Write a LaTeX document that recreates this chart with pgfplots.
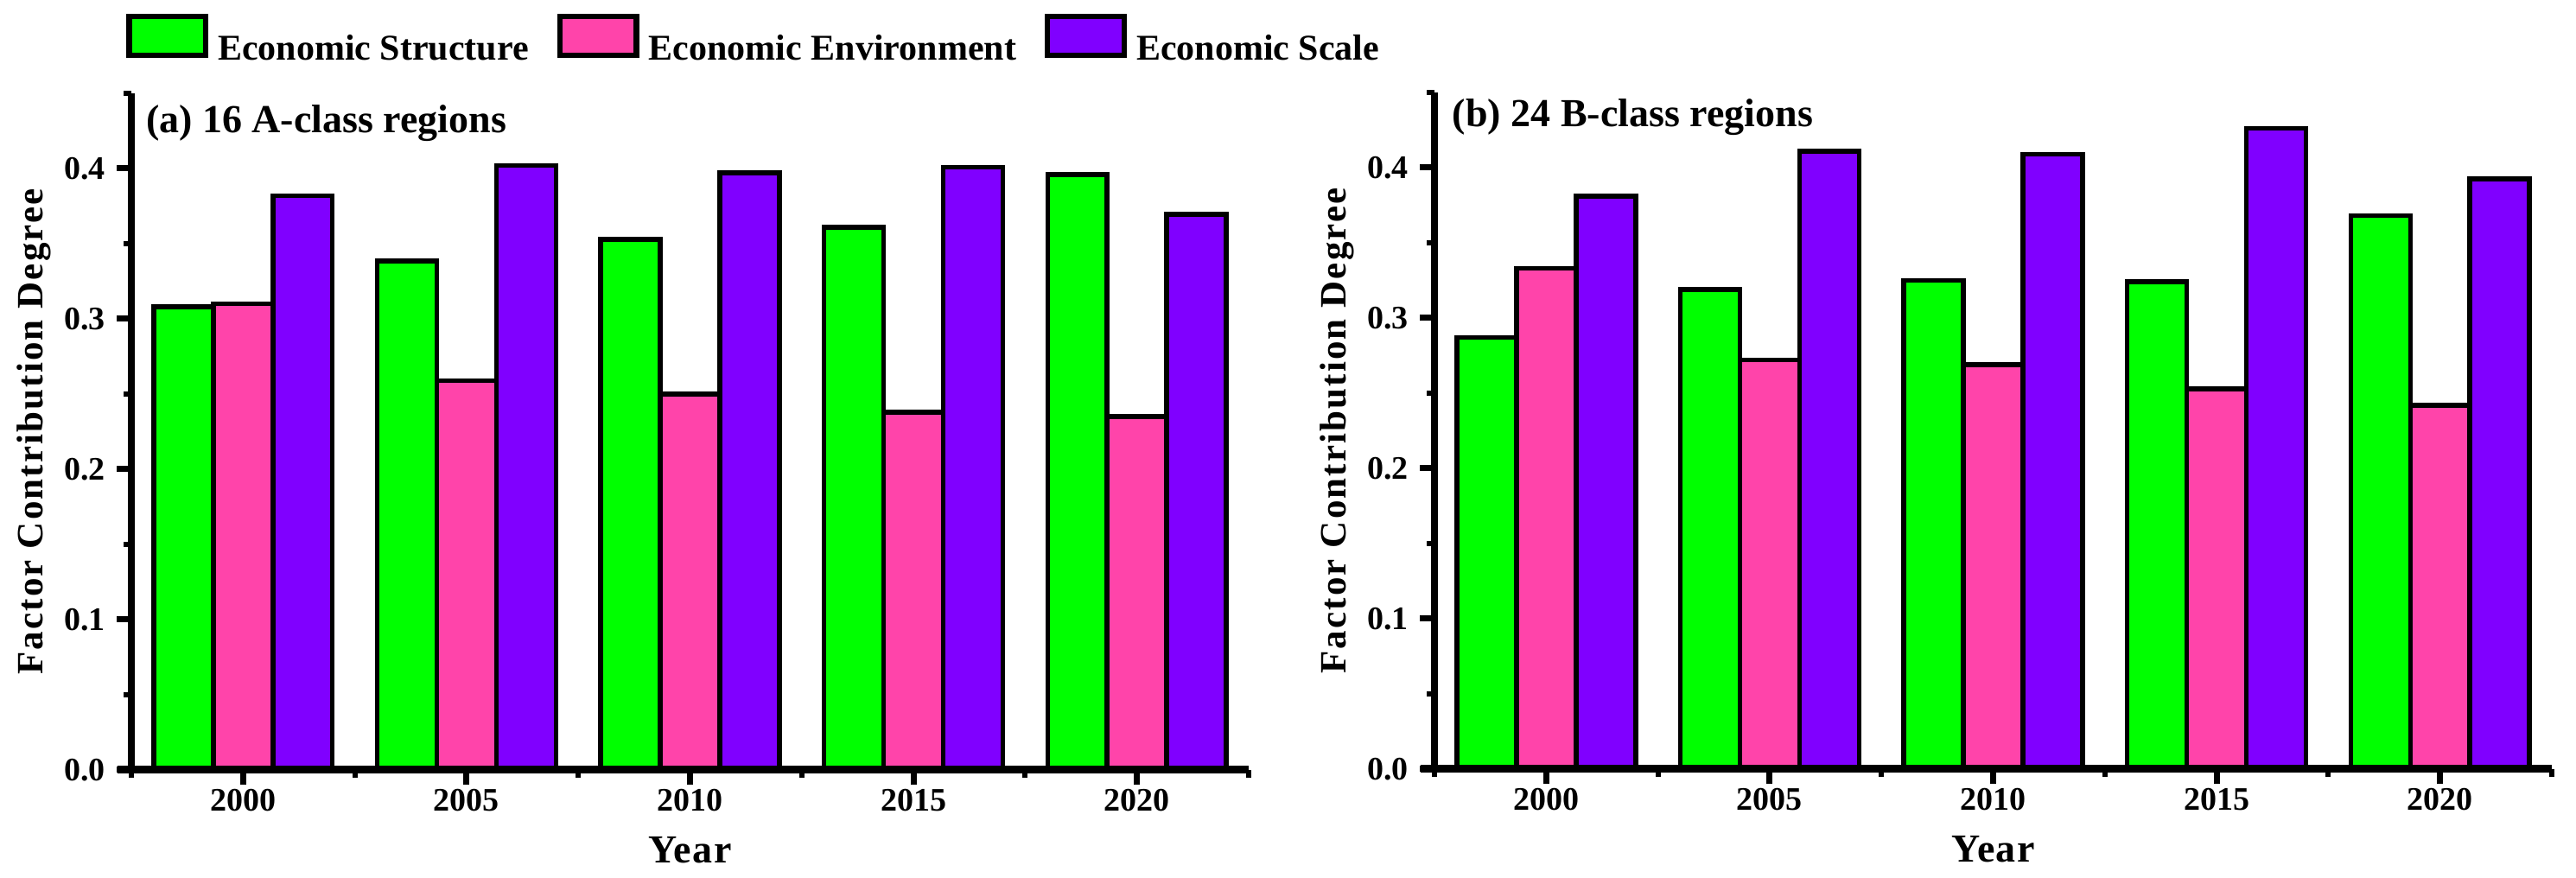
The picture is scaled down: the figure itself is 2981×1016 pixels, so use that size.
\documentclass[border=0pt]{standalone}
\usepackage{fontspec}
\setmainfont{Liberation Serif}
\usepackage{pgfplots}
\usepackage{pgfplotstable}
\pgfplotsset{compat=1.18}

\definecolor{cStruct}{HTML}{00FF00}
\definecolor{cEnv}{HTML}{FF44AA}
\definecolor{cScale}{HTML}{8000FF}

\newcommand\fs[1]{\fontsize{#1}{#1}\selectfont\bfseries}

% (a) 16 A-class regions
\pgfplotstableread{
year struct env scale
2000 0.308 0.310 0.382
2005 0.3385 0.259 0.402
2010 0.353 0.250 0.397
2015 0.361 0.238 0.401
2020 0.396 0.235 0.3695
}\tblA

% (b) 24 B-class regions
\pgfplotstableread{
year struct env scale
2000 0.287 0.333 0.381
2005 0.319 0.272 0.411
2010 0.325 0.269 0.409
2015 0.324 0.253 0.426
2020 0.368 0.242 0.3925
}\tblB

\pgfplotsset{
  facaxis/.style={
    scale only axis, width=1293pt, height=783pt,
    xmin=1997.5, xmax=2022.5, ymin=0, ymax=0.45,
    axis lines*=left, axis on top,
    ybar, bar width=1.3333,
    x axis line style={line width=9pt, shorten <=-16pt},
    y axis line style={line width=8.5pt},
    xtick={2000,2005,2010,2015,2020},
    minor xtick={1997.5,2002.5,2007.5,2012.5,2017.5,2022.5},
    ytick={0,0.1,0.2,0.3,0.4},
    minor ytick={0.05,0.15,0.25,0.35,0.45},
    tick align=outside,
    major tick length=17pt, minor tick length=9pt,
    every major tick/.append style={line width=7pt, black},
    every minor tick/.append style={line width=6pt, black},
    /pgf/number format/assume math mode=true,
    tick label style={font=\fs{38}, inner sep=0pt},
    xticklabel style={/pgf/number format/set thousands separator={}, anchor=north, yshift=-5pt},
    yticklabel style={/pgf/number format/.cd, fixed, fixed zerofill, precision=1, /tikz/.cd, anchor=east, xshift=-13pt},
    xlabel={Year},
    xlabel style={font=\fs{46}\addfontfeature{LetterSpace=3}, at={(axis description cs:0.5,-0.1367)}, anchor=base, inner sep=0pt},
    ylabel={Factor Contribution Degree},
    ylabel style={font=\fs{43}\addfontfeature{LetterSpace=5}, at={(axis description cs:-0.0789,0.5)}, anchor=base, rotate=0, inner sep=0pt},
  },
  barA/.style={fill=cStruct, draw=black, line width=5.5pt, bar shift=-1.3333},
  barB/.style={fill=cEnv, draw=black, line width=5.5pt, bar shift=0},
  barC/.style={fill=cScale, draw=black, line width=5.5pt, bar shift=1.3333},
}

\begin{document}
\begin{tikzpicture}
\useasboundingbox (0,0) rectangle (2981pt,1016pt);

\begin{axis}[facaxis, at={(152pt,125pt)}, anchor=south west,
    legend columns=3,
    legend image code/.code={\draw[#1, line width=6.5pt] (3.2pt,-8.3pt) rectangle (91.8pt,36.3pt);},
    legend style={at={(-0.0046,1.1175)}, anchor=north west, draw=none, fill=none,
      inner sep=0pt, outer sep=0pt, font=\fs{42},
      nodes={inner sep=0pt},
      /tikz/every odd column/.style={column sep=11pt},
      /tikz/every even column/.style={column sep=33pt}},
  ]
  \addplot[barA] table[x=year, y=struct] {\tblA};
  \addplot[barB] table[x=year, y=env] {\tblA};
  \addplot[barC] table[x=year, y=scale] {\tblA};
  \legend{Economic Structure, Economic Environment, Economic Scale}
  \node[anchor=base west, font=\fs{46}, inner sep=0pt] at (rel axis cs:0.0131,0.9425) {(a) 16 A-class regions};
\end{axis}

\begin{axis}[facaxis, at={(1660pt,126pt)}, anchor=south west]
  \addplot[barA] table[x=year, y=struct] {\tblB};
  \addplot[barB] table[x=year, y=env] {\tblB};
  \addplot[barC] table[x=year, y=scale] {\tblB};
  \node[anchor=base west, font=\fs{46}, inner sep=0pt] at (rel axis cs:0.016,0.949) {(b) 24 B-class regions};
\end{axis}
\end{tikzpicture}
\end{document}
